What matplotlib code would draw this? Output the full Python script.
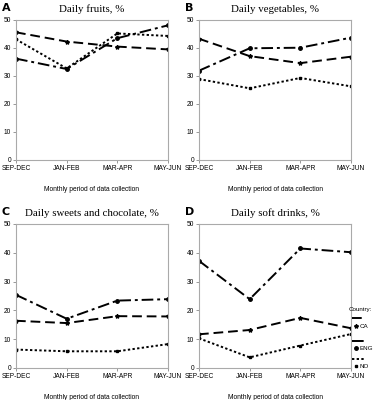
import matplotlib
matplotlib.use('Agg')
import matplotlib.pyplot as plt
from matplotlib.lines import Line2D

# data
periods = ['SEP-DEC', 'JAN-FEB', 'MAR-APR', 'MAY-JUN']
countries = ['CA', 'ENG', 'NO']

fruits_ca = [45.6, 42.3, 40.5, 39.5]
fruits_eng = [36.2, 32.5, 43.5, 48.1]
fruits_no = [43.1, 32.7, 45.2, 44.3]

veg_ca = [43.3, 37.1, 34.6, 36.9]
veg_eng = [31.9, 39.9, 40.1, 43.7]
veg_no = [28.9, 25.6, 29.3, 26.3]

sweets_ca = [16.4, 15.6, 18.0, 17.9]
sweets_eng = [25.4, 17.1, 23.4, 23.9]
sweets_no = [6.4, 5.8, 5.8, 8.3]

soft_ca = [11.7, 13.2, 17.4, 13.8]
soft_eng = [37.2, 23.9, 41.5, 40.2]
soft_no = [10.3, 3.7, 7.8, 11.8]

titles = ['Daily fruits, %', 'Daily vegetables, %',
          'Daily sweets and chocolate, %', 'Daily soft drinks, %']
letters = ['A', 'B', 'C', 'D']
panels = [(fruits_ca, fruits_eng, fruits_no),
          (veg_ca, veg_eng, veg_no),
          (sweets_ca, sweets_eng, sweets_no),
          (soft_ca, soft_eng, soft_no)]

small = ['Liberation Sans', 'DejaVu Sans']
styles = {
    'CA': dict(dashes=(5, 2.5), marker='*', ms=3),
    'ENG': dict(dashes=(6, 2, 1.5, 2), marker='o', ms=2.5),
    'NO': dict(dashes=(1.2, 1.2), marker='s', ms=2),
}

fig = plt.figure(figsize=(3.73, 4.0), dpi=100)
W, H = 373, 400

boxes = [(16, 20, 168, 160), (199, 20, 351, 160),
         (16, 224, 168, 368), (199, 224, 351, 368)]

for i, (x0, y0, x1, y1) in enumerate(boxes):
    ax = fig.add_axes([x0 / W, 1 - y1 / H, (x1 - x0) / W, (y1 - y0) / H])
    for c, vals in zip(countries, panels[i]):
        ax.plot(range(len(periods)), vals, color='black', lw=1.4,
                mec='black', mfc='black', **styles[c])
    ax.set_xlim(0, 3)
    ax.set_ylim(0, 50)
    ax.set_yticks([0, 10, 20, 30, 40, 50])
    ax.set_xticks(range(len(periods)))
    ax.set_xticklabels(periods, family=small, fontsize=4.8)
    for lab in ax.get_yticklabels():
        lab.set_family(small)
        lab.set_fontsize(4.8)
    ax.tick_params(length=2, width=0.6, color='#888888', pad=1.5)
    for s in ax.spines.values():
        s.set_color('#aaaaaa')
        s.set_linewidth(0.8)
    ax.set_xlabel('Monthly period of data collection', family=small,
                  fontsize=4.8, labelpad=10)
    ax.set_title(titles[i], family='Liberation Serif', fontsize=7.8, pad=6)
    fig.text((x0 - 14) / W, 1 - (y0 - 12) / H, letters[i],
             fontsize=8, fontweight='bold', va='center', ha='left')

# legend beside panel D
fig.text(349 / W, 1 - 309 / H, 'Country:', family=small, fontsize=4.5,
         va='center', ha='left')
leg_rows = [(318, 326), (341, 348), (359, 366)]
for c, (yl, ym) in zip(countries, leg_rows):
    st = styles[c]
    fig.add_artist(Line2D([352 / W, 364 / W], [1 - yl / H, 1 - yl / H],
                          color='black', lw=1.4, dashes=st['dashes']))
    fig.add_artist(Line2D([356 / W], [1 - ym / H], color='black', ls='none',
                          marker=st['marker'], ms=st['ms']))
    fig.text(360 / W, 1 - ym / H, c, family=small, fontsize=4.5,
             va='center', ha='left')

fig.savefig('out.png', dpi=100, facecolor='white')
